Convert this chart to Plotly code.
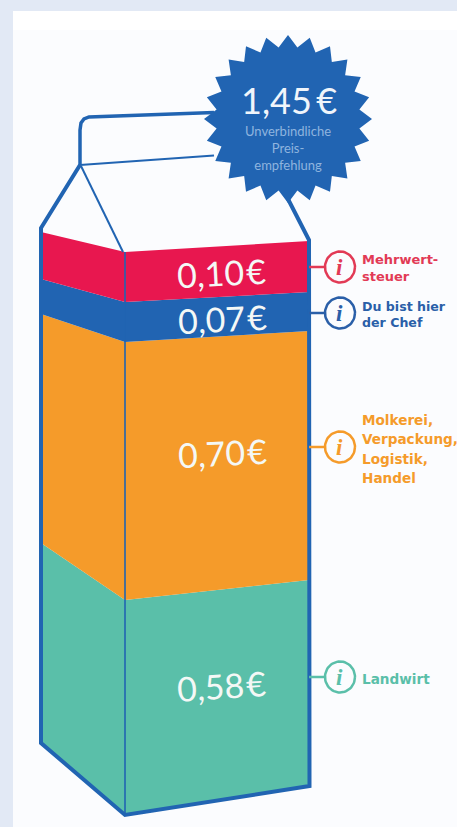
import math
import plotly.graph_objects as go

# --- data ---
categories = ["Landwirt", "Molkerei,<br>Verpackung,<br>Logistik,<br>Handel", "Du bist hier<br>der Chef", "Mehrwert-<br>steuer"]
values = [0.58, 0.70, 0.07, 0.10]
total_label = "1,45\u2009€"
total_note = "Unverbindliche<br>Preis-<br>empfehlung"
colors = ["#5abfa9", "#f59b2a", "#2164b2", "#e8174f"]
text_colors = ["#5abfa9", "#f59b2a", "#2a5fa8", "#e23a55"]
# height each band is actually drawn with on the carton (the picture is not to scale), in euro
drawn_heights = [0.554, 0.665, 0.103, 0.129]

# carton perspective, px
left_drop = [72, 57, 28, 23, 20]
right_rise = [29, 20, 11, 10, 11]

W, H = 457, 827
PX_PER_EUR = 388.0
BASE_PX = 815


def y(px):
    return (BASE_PX - px) / PX_PER_EUR


XL, XC, XR = 41, 125, 309
BLUE = "#2164b2"
fig = go.Figure()

# stacked bands
cum = [0.0]
for h in drawn_heights:
    cum.append(cum[-1] + h)

for i, col in enumerate(colors):
    lo, hi = cum[i], cum[i + 1]
    xs = [XL, XC, XR, XR, XC, XL, XL]
    ys = [
        lo + left_drop[i] / PX_PER_EUR,
        lo,
        lo + right_rise[i] / PX_PER_EUR,
        hi + right_rise[i + 1] / PX_PER_EUR,
        hi,
        hi + left_drop[i + 1] / PX_PER_EUR,
        lo + left_drop[i] / PX_PER_EUR,
    ]
    fig.add_trace(go.Scatter(x=xs, y=ys, mode="lines", fill="toself", fillcolor=col,
                             line=dict(width=0, color=col), hoverinfo="skip", showlegend=False))


def line(xs, pys, width, color=BLUE):
    fig.add_trace(go.Scatter(x=xs, y=[y(p) for p in pys], mode="lines",
                             line=dict(width=width, color=color),
                             hoverinfo="skip", showlegend=False))


top_c = BASE_PX - cum[-1] * PX_PER_EUR
# carton outline
line([80, XL, XL, XC, XR + 0.5, XR, 288], [165, 228, 743, 815, 786, 240, 199], 4)
# corner edge + top folds
line([XC, XC], [top_c, 815], 1.6)
line([81, XC - 2], [166, top_c], 2)
line([80, 214], [165, 155.5], 2)
# handle
line([80, 80, 81, 84, 89, 214], [165, 130, 123, 119, 117, 112.5], 3.5)

# price star
cx, cy, R, r, n = 288, 119, 84, 72, 24
sx, sy = [], []
for k in range(2 * n + 1):
    a = math.pi * k / n
    rad = R if k % 2 == 0 else r
    sx.append(cx + rad * math.sin(a))
    sy.append(y(cy - rad * math.cos(a)))
fig.add_trace(go.Scatter(x=sx, y=sy, mode="lines", fill="toself", fillcolor=BLUE,
                         line=dict(width=0, color=BLUE), hoverinfo="skip", showlegend=False))

# callouts
call_y = [677, 447, 313, 267]
for cy_, col in zip(call_y, text_colors):
    line([309, 325], [cy_, cy_], 2.5, col)
    th = [2 * math.pi * t / 60 for t in range(61)]
    fig.add_trace(go.Scatter(x=[340 + 15 * math.cos(a) for a in th],
                             y=[y(cy_ + 15.5 * math.sin(a)) for a in th],
                             mode="lines", line=dict(width=2.5, color=col),
                             hoverinfo="skip", showlegend=False))

annotations = []


def txt(px, py, text, size, color, family="Lato", angle=0, anchor="center", align="center"):
    annotations.append(dict(x=px, y=y(py), text=text, showarrow=False, xref="x", yref="y",
                            font=dict(size=size, color=color, family=family),
                            textangle=angle, xanchor=anchor, yanchor="middle", align=align))


value_pos = [(221, 685, -4), (222, 452, -3), (222, 318, -3), (221, 272, -3)]
for v, (px, py, ang) in zip(values, value_pos):
    txt(px, py, f"{v:.2f}".replace(".", ",") + "\u200a€", 34, "#f4f8f6", angle=ang)

txt(289, 100, total_label, 36, "#f0f5fb")
txt(288, 148, total_note, 13, "#8fb4df")

# x, first line y, line step, font size for each label
label_pos = [(360, 679, 0, 13.6), (360, 420, 19.3, 13.6), (360, 306, 16, 12.6), (360, 259, 17, 13)]
for cat, col, (px, py, step, size) in zip(categories, text_colors, label_pos):
    for j, part in enumerate(cat.split("<br>")):
        txt(px, py + j * step, f"<b>{part}</b>", size, col, family="DejaVu Sans", anchor="left", align="left")
for cy_, col in zip(call_y, text_colors):
    txt(339.5, cy_, "<b><i>i</i></b>", 23, col, family="Liberation Serif")

shapes = [
    dict(type="rect", layer="below", x0=13, x1=W, y0=y(11), y1=y(H), line_width=0, fillcolor="#ffffff"),
    dict(type="rect", layer="below", x0=13, x1=W, y0=y(30), y1=y(H), line_width=0, fillcolor="#fbfcfe"),
]

fig.update_layout(
    width=W, height=H, margin=dict(l=0, r=0, t=0, b=0),
    paper_bgcolor="#e2e9f5", plot_bgcolor="rgba(0,0,0,0)", showlegend=False,
    xaxis=dict(range=[0, W], visible=False, fixedrange=True),
    yaxis=dict(range=[y(H), y(0)], visible=False, fixedrange=True),
    annotations=annotations, shapes=shapes,
)
fig.write_html("out.html", config={"displayModeBar": False},
               post_script="document.documentElement.style.overflow='hidden';document.body.style.margin='0';")
